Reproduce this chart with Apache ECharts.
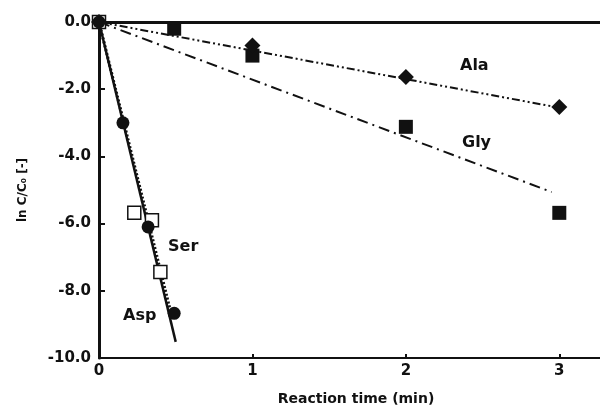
<!DOCTYPE html>
<html>
<head>
<meta charset="utf-8">
<script src="https://cdn.jsdelivr.net/npm/echarts@6/dist/echarts.min.js"></script>
<style>
  html, body { margin: 0; padding: 0; background: #fff; }
  #chart { width: 600px; height: 413px; }
</style>
</head>
<body>
<div id="chart"></div>
<script>
// measured points [time (min), ln C/C0]
var alaPts = [[0, 0], [1, -0.7], [2, -1.64], [3, -2.53]];
var glyPts = [[0, 0], [0.49, -0.2], [1, -1.0], [2, -3.12], [3, -5.68]];
var serPts = [[0, 0], [0.23, -5.68], [0.345, -5.9], [0.40, -7.44]];
var aspPts = [[0, 0], [0.156, -3.0], [0.32, -6.1], [0.49, -8.67]];

// fitted lines (end points)
var alaFit = [[0, 0], [3, -2.55]];
var glyFit = [[0, 0], [2.95, -5.06]];
var serFit = [[0, 0], [0.46, -8.5]];
var aspFit = [[0, 0], [0.5, -9.52]];

var xTicks = [0, 1, 2, 3];
var yTicks = [0, -2, -4, -6, -8, -10];

var box = document.getElementById('chart');
var myChart = echarts.init(box);

var font = 'DejaVu Sans, sans-serif';

function fitLine(data, type, width) {
    return {
        type: 'line',
        data: data,
        symbol: 'none',
        silent: true,
        lineStyle: { color: '#111', width: width, type: type },
        z: 2
    };
}

function pts(data, symbol, size, filled) {
    return {
        type: 'scatter',
        data: data,
        symbol: symbol,
        symbolSize: size,
        itemStyle: filled
            ? { color: '#111', opacity: 1 }
            : { color: '#fff', borderColor: '#111', borderWidth: 1.5, opacity: 1 },
        z: 3
    };
}

var option = {
    animation: false,
    grid: { left: 99, top: 22, bottom: 55, width: 514, outerBoundsMode: 'none', containLabel: false },
    xAxis: [{
        type: 'value',
        min: 0, max: 3.35, interval: 1,
        name: 'Reaction time (min)',
        nameLocation: 'middle',
        nameGap: 34,
        nameTextStyle: { fontFamily: font, fontWeight: 'bold', fontSize: 14, color: '#111', padding: [0, 0, 0, 0] },
        axisLine: { onZero: false, lineStyle: { color: '#111', width: 2 } },
        axisTick: { inside: true, length: 4, lineStyle: { color: '#111', width: 2 } },
        axisLabel: {
            fontFamily: font, fontWeight: 'bold', fontSize: 15, color: '#111', margin: 6,
            formatter: function (v) { return xTicks.indexOf(v) >= 0 ? String(v) : ''; }
        },
        splitLine: { show: false }
    }, {
        type: 'value',
        position: 'top',
        min: 0, max: 3.35,
        axisLine: { onZero: false, lineStyle: { color: '#111', width: 3 } },
        axisTick: { show: false },
        axisLabel: { show: false },
        splitLine: { show: false }
    }],
    yAxis: {
        type: 'value',
        min: -10, max: 0, interval: 2,
        name: 'ln C/C\u2080 [-]',
        nameLocation: 'middle',
        nameGap: 70,
        nameRotate: 90,
        nameTextStyle: { fontFamily: font, fontWeight: 'bold', fontSize: 12, color: '#111' },
        axisLine: { onZero: false, lineStyle: { color: '#111', width: 3 } },
        axisTick: { inside: true, length: 6, lineStyle: { color: '#111', width: 2 } },
        axisLabel: {
            fontFamily: font, fontWeight: 'bold', fontSize: 15, color: '#111', margin: 8,
            formatter: function (v) { return yTicks.indexOf(v) >= 0 ? v.toFixed(1) : ''; }
        },
        splitLine: { show: false }
    },
    series: [
        fitLine(alaFit, [8, 3, 2, 3, 2, 3], 2),
        fitLine(glyFit, [11, 5, 2, 5], 2),
        fitLine(serFit, [2, 2], 3),
        fitLine(aspFit, 'solid', 2.5),
        pts(glyPts, 'rect', 14, true),
        pts(alaPts, 'diamond', 16, true),
        pts(serPts, 'rect', 13, false),
        pts(aspPts, 'circle', 13, true)
    ],
    graphic: [
        { type: 'text', left: 460, top: 58, style: { text: 'Ala', font: 'bold 16px ' + font, fill: '#111' } },
        { type: 'text', left: 462, top: 135, style: { text: 'Gly', font: 'bold 16px ' + font, fill: '#111' } },
        { type: 'text', left: 168, top: 239, style: { text: 'Ser', font: 'bold 16px ' + font, fill: '#111' } },
        { type: 'text', left: 123, top: 308, style: { text: 'Asp', font: 'bold 16px ' + font, fill: '#111' } }
    ]
};

myChart.setOption(option);
</script>
</body>
</html>
